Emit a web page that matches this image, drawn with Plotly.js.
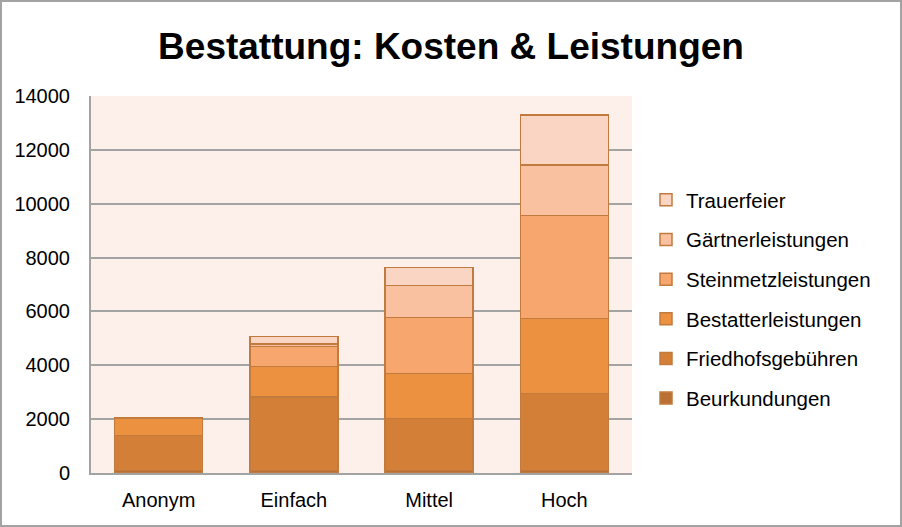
<!DOCTYPE html>
<html>
<head>
<meta charset="utf-8">
<script src="https://cdn.plot.ly/plotly-3.0.1.min.js"></script>
<style>
html,body{margin:0;padding:0;background:#fff;}
#wrap{position:relative;width:902px;height:527px;}
#chart{width:902px;height:527px;}
#frame{position:absolute;left:0;top:0;width:902px;height:527px;box-sizing:border-box;border:2px solid #a3a3a3;pointer-events:none;}
</style>
</head>
<body>
<div id="wrap"><div id="chart"></div><div id="frame"></div></div>
<script>
var categories = ["Anonym", "Einfach", "Mittel", "Hoch"];
var seriesNames = ["Beurkundungen", "Friedhofsgebühren", "Bestatterleistungen", "Steinmetzleistungen", "Gärtnerleistungen", "Trauerfeier"];
var beurkundungen = [100, 100, 100, 100];
var friedhofsgebuehren = [1300, 2730, 1930, 2850];
var bestatterleistungen = [650, 1120, 1670, 2780];
var steinmetzleistungen = [0, 750, 2080, 3830];
var gaertnerleistungen = [0, 90, 1180, 1880];
var trauerfeier = [0, 280, 670, 1860];
var yTicks = [0, 2000, 4000, 6000, 8000, 10000, 12000, 14000];

var values = [beurkundungen, friedhofsgebuehren, bestatterleistungen, steinmetzleistungen, gaertnerleistungen, trauerfeier];
var colors = ["#bb7033", "#d37f37", "#ec9140", "#f7a76e", "#f9c1a0", "#fad5c3"];

var traces = seriesNames.map(function(n, i){
  return {
    type: "bar",
    name: n,
    x: categories,
    y: values[i],
    legendgroup: "g" + i,
    legendrank: 1000 - i,
    marker: {color: colors[i], line: {color: "#c27b3f", width: 1.5}},
    hoverinfo: "x+y+name"
  };
});

var font = "Liberation Sans, Arial, Helvetica, sans-serif";
var layout = {
  width: 902, height: 527,
  margin: {l: 91, r: 270, t: 96, b: 54, pad: 0},
  paper_bgcolor: "#ffffff",
  plot_bgcolor: "#fdefea",
  barmode: "stack",
  bargap: 0.35,
  font: {family: font, size: 20, color: "#000"},
  title: {text: "<b>Bestattung: Kosten &amp; Leistungen</b>", font: {family: font, size: 37, color: "#000"},
          x: 0.5, xref: "container", y: 1 - 46/527, yref: "container", yanchor: "middle"},
  xaxis: {type: "category", showgrid: false, showline: true, linecolor: "#a3a3a3", linewidth: 2,
          ticks: "", tickfont: {family: font, size: 20}, ticklabelstandoff: 8},
  yaxis: {range: [0, 14000], tickvals: yTicks, ticktext: yTicks.map(String), showgrid: true,
          gridcolor: "#a3a3a3", gridwidth: 2, showline: true, linecolor: "#a3a3a3", linewidth: 2,
          ticks: "", zeroline: false, ticklabelstandoff: 15,
          tickfont: {family: font, size: 20}},
  showlegend: true,
  legend: {traceorder: "grouped", tracegroupgap: 10, xref: "container", yref: "container",
           x: 646/902, y: 1 - 180/527, xanchor: "left", yanchor: "top",
           font: {family: font, size: 20.5}, bgcolor: "rgba(0,0,0,0)"}
};

Plotly.newPlot("chart", traces, layout, {displayModeBar: false, staticPlot: true});
</script>
</body>
</html>
